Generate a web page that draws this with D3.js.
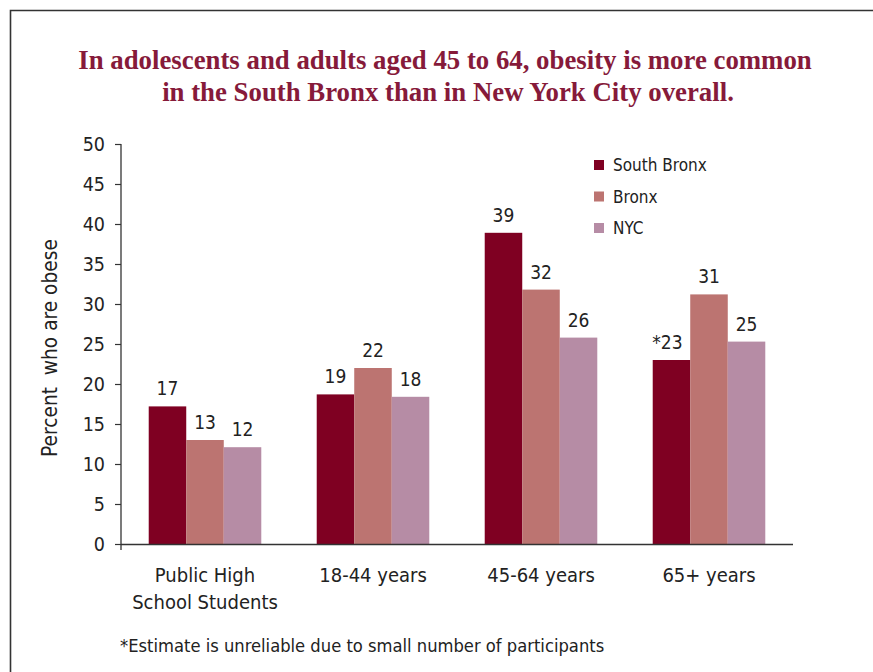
<!DOCTYPE html>
<html>
<head>
<meta charset="utf-8">
<script src="https://cdn.jsdelivr.net/npm/d3@7/dist/d3.min.js"></script>
<style>
  html, body { margin: 0; padding: 0; background: #fff; }
  svg { display: block; }
  .cond { font-family: "Liberation Sans Narrow", "DejaVu Sans Condensed", "Roboto", sans-serif; font-stretch: condensed; }
</style>
</head>
<body>
<svg id="chart" width="873" height="672"></svg>
<script>
// Obesity prevalence by age group and area
const categories = [["Public High", "School Students"], ["18-44 years"], ["45-64 years"], ["65+ years"]];
const seriesNames = ["South Bronx", "Bronx", "NYC"];
const southBronx = [17.2, 18.7, 38.9, 23.0];
const bronx = [13.0, 22.0, 31.8, 31.2];
const nyc = [12.1, 18.4, 25.8, 25.3];
const valueLabels = [
  ["17", "19", "39", "*23"],
  ["13", "22", "32", "31"],
  ["12", "18", "26", "25"]
];
const yTicks = [0, 5, 10, 15, 20, 25, 30, 35, 40, 45, 50];
const colors = ["#7f0022", "#bc7471", "#b68ca5"];

const series = [southBronx, bronx, nyc];
const svg = d3.select("#chart");

// Frame
svg.append("path")
  .attr("d", "M10.5,673 L10.5,10.5 L874,10.5")
  .attr("fill", "none")
  .attr("stroke", "#333")
  .attr("stroke-width", 1.6);

// Title
const title = svg.append("text")
  .attr("x", 445)
  .attr("text-anchor", "middle")
  .attr("fill", "#861a3a")
  .style("font-family", "'Liberation Serif', 'DejaVu Serif', serif")
  .style("font-weight", "bold")
  .style("font-size", "26.8px");
title.append("tspan").attr("x", 445).attr("y", 69).text("In adolescents and adults aged 45 to 64, obesity is more common");
title.append("tspan").attr("x", 448).attr("y", 101).text("in the South Bronx than in New York City overall.");

const x0 = d3.scaleBand().domain(d3.range(categories.length)).range([121, 793]).paddingInner(0.33).paddingOuter(0.165);
const x1 = d3.scaleBand().domain(d3.range(seriesNames.length)).range([0, x0.bandwidth()]);
const y = d3.scaleLinear().domain([0, 50]).range([544, 144]);

// Bars
series.forEach((vals, s) => {
  svg.append("g").selectAll("rect")
    .data(vals)
    .join("rect")
    .attr("x", (d, i) => x0(i) + x1(s))
    .attr("y", d => y(d))
    .attr("width", x1.bandwidth())
    .attr("height", d => y(0) - y(d))
    .attr("fill", colors[s]);

  svg.append("g").selectAll("text")
    .data(vals)
    .join("text")
    .attr("class", "cond")
    .attr("x", (d, i) => x0(i) + x1(s) + x1.bandwidth() / 2 - (valueLabels[s][i].startsWith("*") ? 4 : 0))
    .attr("y", d => y(d) - 11)
    .attr("text-anchor", "middle")
    .attr("fill", "#222")
    .style("font-size", "19px")
    .text((d, i) => valueLabels[s][i]);
});

// Y axis
const yAxis = d3.axisLeft(y).tickValues(yTicks).tickSize(6).tickPadding(10);
const gy = svg.append("g").attr("transform", "translate(121,0)").call(yAxis);
gy.select(".domain").attr("d", "M0,144 L0,550").attr("stroke", "#333").attr("stroke-width", 1.3);
gy.selectAll(".tick line").attr("stroke", "#333").attr("stroke-width", 1.2);
gy.selectAll(".tick text").attr("class", "cond").attr("fill", "#222").style("font-size", "19.5px");

// X axis baseline
svg.append("line")
  .attr("x1", 121).attr("x2", 793)
  .attr("y1", y(0) + 0.5).attr("y2", y(0) + 0.5)
  .attr("stroke", "#333").attr("stroke-width", 1.3);

// Category labels
categories.forEach((lines, i) => {
  const t = svg.append("text")
    .attr("class", "cond")
    .attr("text-anchor", "middle")
    .attr("fill", "#222")
    .style("font-size", "20px");
  lines.forEach((ln, k) => {
    t.append("tspan")
      .attr("x", x0(i) + x0.bandwidth() / 2)
      .attr("y", 582 + k * 27)
      .text(ln);
  });
});

// Y axis title
svg.append("text")
  .attr("class", "cond")
  .attr("transform", "translate(57,348) rotate(-90)")
  .attr("text-anchor", "middle")
  .attr("fill", "#222")
  .style("font-size", "20.7px")
  .style("white-space", "pre")
  .text("Percent  who are obese");

// Legend
const legend = svg.append("g").attr("transform", "translate(594,0)");
seriesNames.forEach((name, i) => {
  const cy = 165 + i * 31.5;
  legend.append("rect").attr("x", 0).attr("y", cy - 5).attr("width", 10).attr("height", 10).attr("fill", colors[i]);
  legend.append("text")
    .attr("class", "cond")
    .attr("x", 19).attr("y", cy + 6)
    .attr("fill", "#222")
    .style("font-size", "17px")
    .text(name);
});

// Footnote
svg.append("text")
  .attr("class", "cond")
  .attr("x", 120).attr("y", 652)
  .attr("fill", "#222")
  .style("font-size", "18.2px")
  .text("*Estimate is unreliable due to small number of participants");
</script>
</body>
</html>
